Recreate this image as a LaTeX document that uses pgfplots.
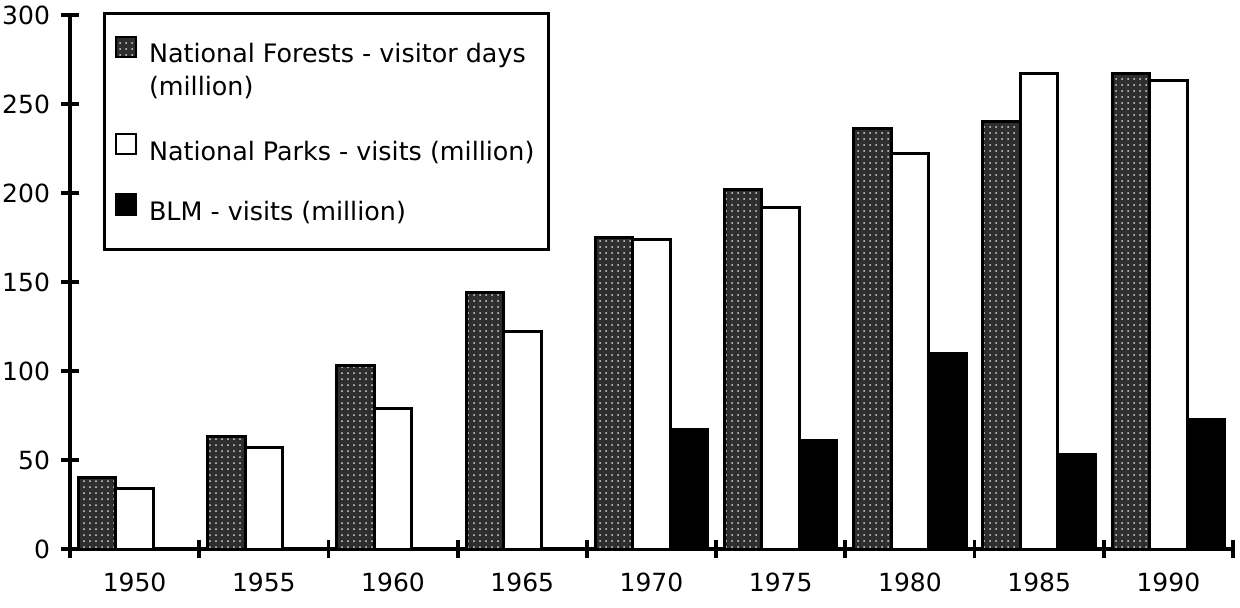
\documentclass[border=0pt]{standalone}
\usepackage{fontspec}
\setmainfont{DejaVu Sans}
\usepackage{pgfplots}
\pgfplotsset{compat=1.18}
\usetikzlibrary{patterns}
\begin{document}
\begin{tikzpicture}
\begin{axis}[
  name=ax,
  scale only axis, width=581.5pt, height=267pt,
  xmin=-0.5, xmax=8.5, ymin=0, ymax=300,
  ybar=0pt, bar width=0.29,
  axis x line=bottom, axis y line=left,
  axis line style={line width=1.9pt, -},
  xtick={0,...,8},
  xticklabels={1950,1955,1960,1965,1970,1975,1980,1985,1990},
  minor xtick={-0.5,0.5,1.5,2.5,3.5,4.5,5.5,6.5,7.5,8.5},
  ytick={0,50,...,300},
  tick align=center,
  major tick length=9pt, minor tick length=9pt,
  every tick/.style={line width=1.9pt, black},
  major x tick style={draw=none},
  /pgf/number format/assume math mode=true,
  tick label style={font=\fontsize{12.5}{15}\selectfont},
  x tick label style={yshift=-4pt},
  y tick label style={xshift=-2pt},
  clip=false,
  legend style={at={(rel axis cs:0.0284,1.0056)}, anchor=north west,
    draw=black, line width=1.6pt, inner xsep=5pt, inner ysep=11pt,
    row sep=13pt, column sep=4pt, font=\fontsize{12.7}{15}\selectfont},
  legend cell align=left,
  legend image code/.code={\draw[#1, line width=1.2pt] (0pt,-1pt) rectangle (10pt,9pt);},
]
\addplot[bar shift=-0.29, draw=black, line width=1.5pt, fill=black!82,
  postaction={pattern=dots, pattern color=white!85!black}]
  coordinates {(0,40) (1,63) (2,103) (3,144) (4,175) (5,202) (6,236) (7,240) (8,267)};
\addlegendentry{National Forests - visitor days}
\addlegendimage{empty legend}
\addlegendentry{\raisebox{2pt}[0pt][1.5pt]{(million)}}
\addplot[bar shift=0, draw=black, line width=1.5pt, fill=white]
  coordinates {(0,34) (1,57) (2,79) (3,122) (4,174) (5,192) (6,222) (7,267) (8,263)};
\addlegendentry{National Parks - visits (million)}
\addplot[bar shift=0.29, draw=black, line width=1.5pt, fill=black]
  coordinates {(4,67) (5,61) (6,110) (7,53) (8,73)};
\addlegendentry{BLM - visits (million)}
\end{axis}
\pgfresetboundingbox
\path[use as bounding box] ([shift={(-35pt,-29pt)}]ax.south west) rectangle ([shift={(3.5pt,7.5pt)}]ax.north east);
\end{tikzpicture}
\end{document}
